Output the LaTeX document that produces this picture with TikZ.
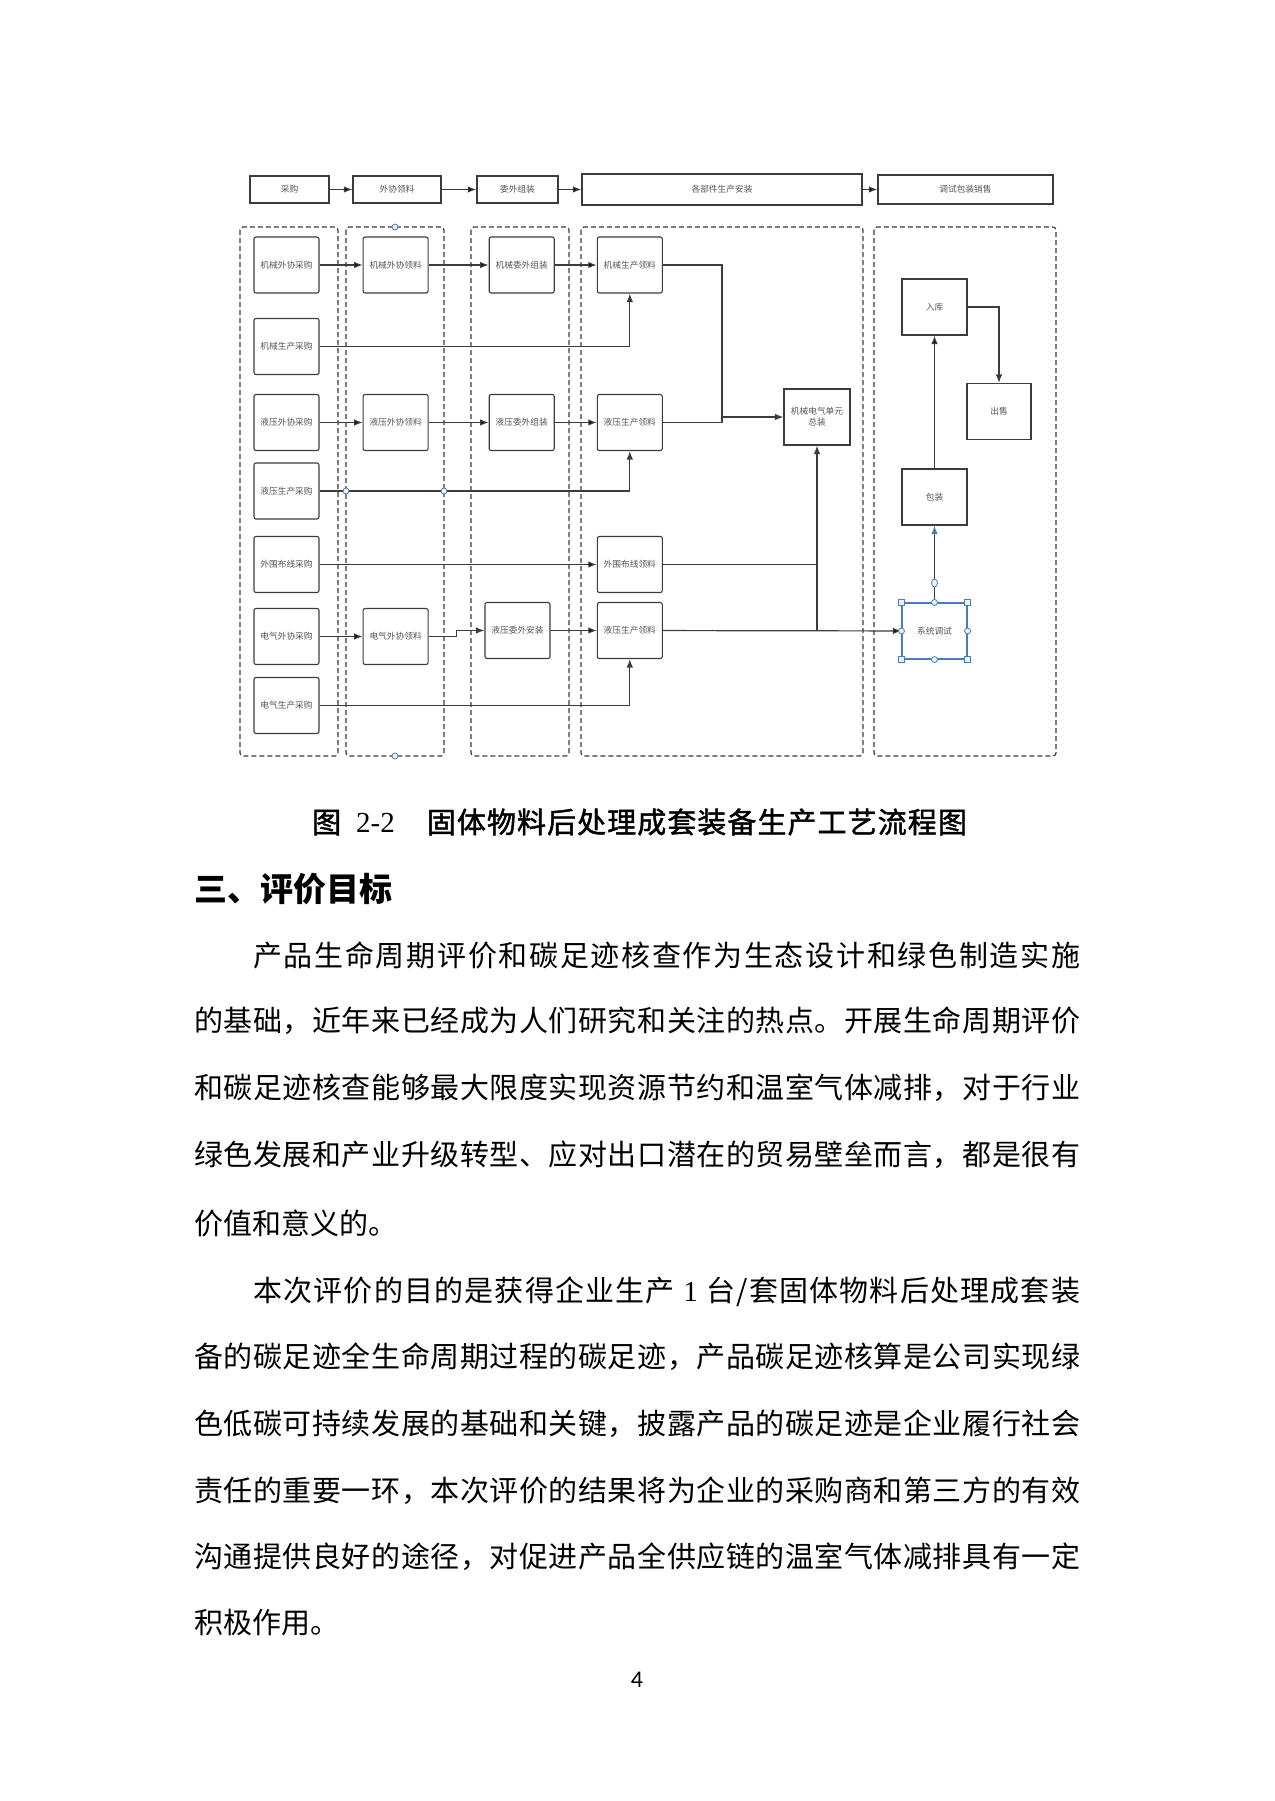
\documentclass[tikz,border=0pt]{standalone}
\usepackage{fontspec}
\setmainfont{Liberation Serif}
\newfontfamily\cjk{Noto Sans CJK SC}
\newfontfamily\cjkmid[FakeBold=1.5]{Noto Sans CJK SC}
\newfontfamily\pgnum{Carlito}
\usetikzlibrary{shapes, arrows.meta, positioning}

\definecolor{linec}{HTML}{3C3C3C}
\definecolor{textc}{HTML}{555555}
\definecolor{selc}{HTML}{4A7EBB}
\definecolor{selfill}{HTML}{EAF2FB}

\newcommand\spreadtext[1]{\spreadaux#1\spreadstop}
\def\spreadaux#1#2\spreadstop{#1\ifx\relax#2\relax\else\hfill\spreadaux#2\spreadstop\fi}

\begin{document}
\begin{tikzpicture}[x=1pt, y=-1pt, node distance=43pt,
	box/.style={rectangle, draw=linec, line width=1.1pt, rounded corners=2pt, minimum width=65pt, minimum height=56pt, inner sep=0pt, text=textc, font=\cjk\fontsize{8.7}{11}\selectfont},
	sqbox/.style={box, sharp corners},
	topbox/.style={rectangle, draw=linec, line width=1.4pt, minimum height=27pt, inner sep=0pt, text=textc, font=\cjk\fontsize{8.7}{11}\selectfont},
	lane/.style={draw=linec, line width=1.2pt, dash pattern=on 5pt off 3pt, rounded corners=3pt},
	wire/.style={draw=linec, line width=1.2pt},
	flow/.style={wire, -{Latex[length=8.5pt, width=6.5pt]}},
	selhandle/.style={circle, draw=selc, fill=selfill, line width=0.8pt, minimum size=6pt, inner sep=0pt},
	selsquare/.style={rectangle, draw=selc, fill=selfill, line width=0.8pt, minimum size=6pt, inner sep=0pt},
	bodyline/.style={anchor=west, inner sep=0pt, font=\cjk\fontsize{29}{29}\selectfont}]
	\useasboundingbox[fill=white] (0,0) rectangle (1274,1801);

	\node (caigou) [topbox, minimum width=79pt] at (289.5,189.5) {采购};
	\node (wxll) [topbox, minimum width=88pt] at (397,189.5) {外协领料};
	\node (wwzz) [topbox, minimum width=81pt] at (517.5,189.5) {委外组装};
	\node (gbj) [topbox, minimum width=280pt, minimum height=31pt] at (722,189.5) {各部件生产安装};
	\node (tsbz) [topbox, minimum width=175pt, minimum height=29pt] at (965.5,189.5) {调试包装销售};

	\draw[lane] (240,227) rectangle (338,756);
	\draw[lane] (346,227) rectangle (444,756);
	\draw[lane] (471,227) rectangle (569,756);
	\draw[lane] (581,227) rectangle (863,756);
	\draw[lane] (874,227) rectangle (1056,756);

	\node (jxwxcg) [box] at (286.5,265) {机械外协采购};
	\node (jxsccg) [box] at (286.5,346.5) {机械生产采购};
	\node (yywxcg) [box] at (286.5,422.5) {液压外协采购};
	\node (yysccg) [box] at (286.5,491) {液压生产采购};
	\node (wwbxcg) [box] at (286.5,564.5) {外围布线采购};
	\node (dqwxcg) [box] at (286.5,636.5) {电气外协采购};
	\node (dqsccg) [box] at (286.5,705.5) {电气生产采购};

	\node (jxwxll) [box, right=43pt of jxwxcg] {机械外协领料};
	\node (yywxll) [box, right=43pt of yywxcg] {液压外协领料};
	\node (dqwxll) [box, right=43pt of dqwxcg] {电气外协领料};
	\node (jxwwzz) [box, right=60pt of jxwxll] {机械委外组装};
	\node (yywwzz) [box, right=60pt of yywxll] {液压委外组装};
	\node (yywwaz) [box] at (517.5,630.5) {液压委外安装};
	\node (jxscll) [box, right=42pt of jxwwzz] {机械生产领料};
	\node (yyscll) [box, right=42pt of yywwzz] {液压生产领料};
	\node (wwbxll) [box] at (jxscll |- wwbxcg) {外围布线领料};
	\node (yyscll2) [box] at (jxscll |- yywwaz) {液压生产领料};

	\node (zongzhuang) [sqbox, minimum width=66pt, align=center] at (817,417) {机械电气单元\\总装};
	\node (ruku) [sqbox] at (934.5,307) {入库};
	\node (chushou) [sqbox, minimum width=64pt] at (999,411.5) {出售};
	\node (baozhuang) [sqbox] at (934.5,497) {包装};
	\node (xtts) [sqbox, draw=selc] at (934.5,631) {系统调试};

	\path[flow] (caigou) edge (wxll)
		(wxll) edge (wwzz)
		(wwzz) edge (gbj)
		(gbj) edge (tsbz);

	\path[flow] (jxwxcg) edge (jxwxll)
		(jxwxll) edge (jxwwzz)
		(jxwwzz) edge (jxscll)
		(yywxcg) edge (yywxll)
		(yywxll) edge (yywwzz)
		(yywwzz) edge (yyscll)
		(wwbxcg) edge (wwbxll)
		(dqwxcg) edge (dqwxll)
		(yywwaz) edge (yyscll2)
		(yyscll2) edge (xtts)
		(baozhuang) edge (ruku);
	\draw[flow] (jxsccg) -| (jxscll);
	\draw[flow] (yysccg) -| (yyscll);
	\draw[flow] (dqsccg) -| (yyscll2);
	\draw[flow] (dqwxll.east) -- ++(28,0) |- (yywwaz.west);
	\draw[flow] (ruku) -| (chushou);

	\coordinate (hub1) at (722,417);
	\coordinate (hub2) at (zongzhuang.south |- yyscll2.east);
	\draw[wire] (jxscll.east) -| (hub1);
	\draw[wire] (yyscll.east) -| (hub1);
	\draw[flow] (hub1) -- (zongzhuang);
	\draw[wire] (wwbxll.east) -| (hub2);
	\draw[flow] (hub2) -- (zongzhuang.south);
	\draw[wire, -{Latex[length=8.5pt, width=6.5pt, color=selc]}] (xtts) -- (baozhuang);

	\node (h1) [selhandle] at (395,227) {};
	\node (h2) [selhandle] at (395,756) {};
	\node (h3) [selhandle] at (346,491) {};
	\node (h4) [selhandle] at (444,491) {};
	\node (h5) [selhandle, minimum width=6pt, minimum height=8pt, ellipse] at (934.5,583) {};
	\foreach \a/\n in {north west/nw, north east/ne, south west/sw, south east/se}
		\node (sq\n) [selsquare] at (xtts.\a) {};
	\foreach \a/\n in {north/n, south/s, east/e, west/w}
		\node (ci\n) [selhandle] at (xtts.\a) {};

	\node (caption) [anchor=west, inner sep=0pt, font=\cjkmid\fontsize{29}{29}\selectfont] at (312,822) {图\hspace{15pt}{\rmfamily 2-2}\hspace{32pt}\hbox to 540pt{\spreadtext{固体物料后处理成套装备生产工艺流程图}}};
	\node (heading) [anchor=west, inner sep=0pt, font=\cjk\bfseries\fontsize{33}{33}\selectfont] at (194,889) {三、评价目标};

	\node (p1a) [bodyline] at (253,955) {\hbox to 827pt{\spreadtext{产品生命周期评价和碳足迹核查作为生态设计和绿色制造实施}}};
	\node (p1b) [bodyline] at (194,1021) {\hbox to 886pt{\spreadtext{的基础，近年来已经成为人们研究和关注的热点。开展生命周期评价}}};
	\node (p1c) [bodyline] at (194,1088) {\hbox to 886pt{\spreadtext{和碳足迹核查能够最大限度实现资源节约和温室气体减排，对于行业}}};
	\node (p1d) [bodyline] at (194,1155) {\hbox to 886pt{\spreadtext{绿色发展和产业升级转型、应对出口潜在的贸易壁垒而言，都是很有}}};
	\node (p1e) [bodyline] at (194,1223) {价值和意义的。};

	\node (p2a) [bodyline] at (253,1292) {\hbox to 827pt{\spreadtext{本次评价的目的是获得企业生产{{\rmfamily\ 1\ }}台/套固体物料后处理成套装}}};
	\node (p2b) [bodyline] at (194,1357) {\hbox to 886pt{\spreadtext{备的碳足迹全生命周期过程的碳足迹，产品碳足迹核算是公司实现绿}}};
	\node (p2c) [bodyline] at (194,1424) {\hbox to 886pt{\spreadtext{色低碳可持续发展的基础和关键，披露产品的碳足迹是企业履行社会}}};
	\node (p2d) [bodyline] at (194,1491) {\hbox to 886pt{\spreadtext{责任的重要一环，本次评价的结果将为企业的采购商和第三方的有效}}};
	\node (p2e) [bodyline] at (194,1557) {\hbox to 886pt{\spreadtext{沟通提供良好的途径，对促进产品全供应链的温室气体减排具有一定}}};
	\node (p2f) [bodyline] at (194,1623) {积极作用。};

	\node (pagenum) [inner sep=0pt, font=\pgnum\fontsize{24}{24}\selectfont] at (637,1680) {4};
\end{tikzpicture}
\end{document}
